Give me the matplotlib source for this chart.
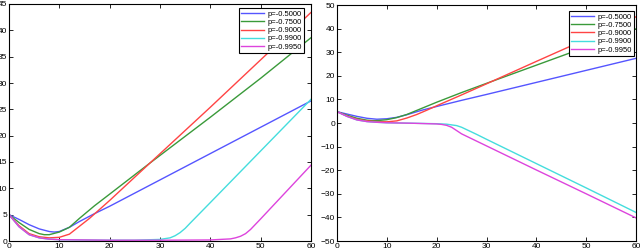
import matplotlib
matplotlib.use("Agg")
import matplotlib.pyplot as plt

plt.rcParams['font.family'] = ['Liberation Sans', 'DejaVu Sans']

labels = ['p=-0.5000', 'p=-0.7500', 'p=-0.9000', 'p=-0.9900', 'p=-0.9950']
colors = ['#5555ff', '#3a9a3a', '#ff4444', '#44dddd', '#dd44dd']

# left panel
l_blue_x = [0, 2, 4, 6, 8, 9, 10, 12, 14, 17, 20, 30, 40, 50, 60]
l_blue_y = [5, 4.1, 3.1, 2.3, 1.8, 1.7, 1.8, 2.6, 3.7, 5.2, 6.6, 11.6, 16.6, 21.6, 26.6]
l_green_x = [0, 2, 4, 6, 7, 8, 10, 12, 14, 17, 20, 28, 40, 50, 60]
l_green_y = [5, 3.5, 2.2, 1.4, 1.2, 1.2, 1.7, 2.6, 4.3, 6.7, 8.9, 14.8, 23.5, 30.9, 38.6]
l_red_x = [0, 2, 4, 6, 8, 10, 12, 14, 16, 18, 20, 28, 40, 50, 60]
l_red_y = [5, 2.9, 1.4, 0.8, 0.6, 0.7, 1.3, 2.8, 4.3, 6.0, 7.7, 14.8, 25.4, 34.4, 43.4]
l_cyan_x = [0, 2, 4, 6, 8, 10, 15, 20, 25, 30, 32, 33, 34, 35, 36, 40, 50, 60]
l_cyan_y = [5, 2.7, 1.2, 0.6, 0.35, 0.25, 0.2, 0.15, 0.15, 0.3, 0.6, 1.0, 1.6, 2.4, 3.4, 7.3, 17.1, 26.9]
l_mag_x = [0, 2, 4, 6, 8, 10, 20, 30, 40, 44, 45, 46, 47, 48, 50, 55, 60]
l_mag_y = [5, 2.7, 1.2, 0.6, 0.35, 0.25, 0.15, 0.15, 0.2, 0.4, 0.6, 0.9, 1.4, 2.2, 4.2, 9.3, 14.4]

# right panel
r_blue_x = [0, 2, 4, 6, 8, 10, 12, 14, 17, 20, 25, 30, 40, 50, 60]
r_blue_y = [4.8, 3.8, 2.8, 2.0, 1.6, 1.8, 2.4, 3.5, 5.4, 7.0, 9.6, 12.1, 17.2, 22.3, 27.4]
r_green_x = [0, 2, 4, 6, 7, 8, 10, 12, 14, 17, 20, 25, 30, 40, 50, 60]
r_green_y = [4.8, 3.3, 2.0, 1.2, 1.0, 1.0, 1.4, 2.3, 3.6, 6.2, 8.8, 12.9, 16.8, 24.5, 32.2, 39.9]
r_red_x = [0, 2, 4, 6, 8, 10, 12, 14, 16, 18, 20, 25, 30, 40, 50, 60]
r_red_y = [4.8, 3.0, 1.6, 0.9, 0.6, 0.5, 0.9, 2.1, 3.6, 5.4, 7.3, 11.9, 16.6, 26.1, 35.5, 45.0]
r_cyan_x = [0, 2, 4, 6, 8, 10, 15, 20, 22, 23, 24, 25, 26, 28, 30, 40, 50, 60]
r_cyan_y = [4.8, 2.8, 1.3, 0.6, 0.3, 0.1, -0.1, -0.3, -0.5, -0.8, -1.1, -1.8, -2.8, -4.8, -6.9, -17.2, -27.5, -37.9]
r_mag_x = [0, 2, 4, 6, 8, 10, 15, 20, 21, 22, 23, 24, 25, 30, 40, 50, 60]
r_mag_y = [4.8, 2.8, 1.3, 0.6, 0.3, 0.1, -0.1, -0.4, -0.6, -1.0, -1.8, -3.2, -4.6, -9.7, -19.9, -30.0, -40.2]

left = [(l_blue_x, l_blue_y), (l_green_x, l_green_y), (l_red_x, l_red_y),
        (l_cyan_x, l_cyan_y), (l_mag_x, l_mag_y)]
right = [(r_blue_x, r_blue_y), (r_green_x, r_green_y), (r_red_x, r_red_y),
         (r_cyan_x, r_cyan_y), (r_mag_x, r_mag_y)]

fig = plt.figure(figsize=(6.4, 2.5), dpi=100)
ax1 = fig.add_axes([9/640, 9/250, 302/640, 237/250])
ax2 = fig.add_axes([337/640, 9/250, 299/640, 236/250])


def draw(ax, series, ylim, yticks, anchor):
    for (x, y), c, lab in zip(series, colors, labels):
        ax.plot(x, y, color=c, lw=1.0, label=lab)
    ax.set_xlim(0, 60)
    ax.set_ylim(*ylim)
    ax.set_xticks(range(0, 61, 10))
    ax.set_yticks(yticks)
    ax.tick_params(direction='in', length=3, width=0.6, labelsize=6,
                   top=True, right=True, pad=1.5)
    for s in ax.spines.values():
        s.set_linewidth(0.8)
    leg = ax.legend(loc='upper right', bbox_to_anchor=anchor, fontsize=5.5,
                    fancybox=False, framealpha=1, edgecolor='black',
                    handlelength=3.0, handletextpad=0.4, borderpad=0.3,
                    labelspacing=0.12, borderaxespad=0)
    leg.get_frame().set_linewidth(0.8)


draw(ax1, left, (0, 45), range(0, 46, 5), (0.977, 0.983))
draw(ax2, right, (-50, 50), range(-50, 51, 10), (0.993, 0.975))

fig.savefig('out.png', dpi=100)
